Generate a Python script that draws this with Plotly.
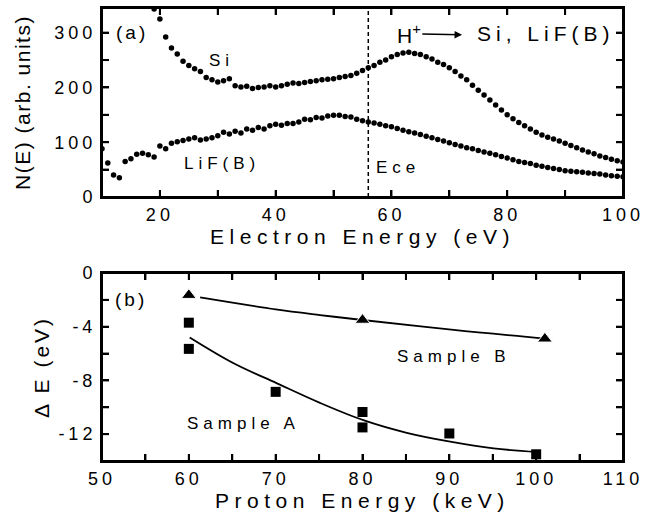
import plotly.graph_objects as go

# ---- Panel (a) data: N(E) vs electron energy ----
si_x = list(range(19, 101))
si_y = [343, 325, 292, 272, 261, 248, 240, 234, 229, 218,
        214, 210, 212, 216, 203, 201, 202, 198, 200, 201,
        203, 201, 203, 206, 208, 207, 209, 211, 212, 214,
        215, 216, 218, 220, 222, 226, 231, 236, 240, 246,
        250, 256, 260, 263, 264, 262, 260, 256, 252, 246,
        242, 236, 229, 221, 214, 204, 195, 186, 177, 168,
        159, 150, 143, 136, 130, 124, 118, 113, 109, 106,
        102, 98, 94, 90, 86, 82, 79, 75, 72, 69,
        66, 64]

lif_x = list(range(10, 101))
lif_y = [88, 62, 40, 35, 65, 70, 78, 80, 77, 73,
         93, 88, 98, 101, 103, 106, 108, 104, 106, 108,
         112, 118, 115, 120, 117, 124, 122, 127, 124, 130,
         133, 131, 134, 134, 137, 142, 141, 145, 144, 148,
         149, 149, 147, 146, 142, 139, 137, 135, 133, 130,
         128, 125, 122, 119, 117, 114, 111, 108, 105, 102,
         99, 96, 93, 90, 88, 85, 82, 80, 77, 74,
         71, 68, 65, 63, 61, 58, 56, 54, 52, 50,
         48, 47, 46, 45, 44, 43, 42, 40, 39, 38,
         37]

ece_x = 56

# ---- Panel (b) data: Delta E vs proton energy ----
a_x = [60, 60, 70, 80, 80, 90, 100]
a_y = [-3.7, -5.65, -8.85, -10.35, -11.5, -11.95, -13.5]
b_x = [60, 80, 101]
b_y = [-1.65, -3.5, -4.9]

a_fit_x = [60.1, 65.1, 70.1, 75.1, 80.1, 85.1, 90.1, 95.1, 100.1]
a_fit_y = [-4.8, -6.7, -8.2, -9.67, -10.96, -11.9, -12.56, -13.06, -13.33]
b_fit_x = [61.3, 70.0, 75.1, 80.0, 90.5, 101.3]
b_fit_y = [-1.82, -2.71, -3.13, -3.5, -4.24, -4.9]

# axis ranges, tick positions (all ticks) and the labelled subset
top_xrange = [10, 100]
top_yrange = [0, 345]
bot_xrange = [50, 110]
bot_yrange = [-14, 0]
top_xticks = [10, 20, 30, 40, 50, 60, 70, 80, 90, 100]
top_xlabels = [20, 40, 60, 80, 100]
top_yticks = [0, 50, 100, 150, 200, 250, 300]
top_ylabels = [0, 100, 200, 300]
bot_xticks = [50, 55, 60, 65, 70, 75, 80, 85, 90, 95, 100, 105, 110]
bot_xlabels = [50, 60, 70, 80, 90, 100, 110]
bot_yticks = [0, -2, -4, -6, -8, -10, -12, -14]
bot_ylabels = [0, -4, -8, -12]

FONT = "Liberation Sans"


def sp(text, ls):
    return f'<span style="letter-spacing:{ls}px">{text}</span>'


def labels(ticks, shown, ls=4):
    return [sp(str(v), ls) if v in shown else "" for v in ticks]


def box(xr, yr):
    return [xr[0], xr[1], xr[1], xr[0], xr[0]], [yr[0], yr[0], yr[1], yr[1], yr[0]]


def tick_segments(xr, yr, xt, yt, hpx, wpx, tick_px=7):
    dy = (yr[1] - yr[0]) * tick_px / hpx
    dx = (xr[1] - xr[0]) * tick_px / wpx
    xs, ys = [], []
    for v in xt:
        xs += [v, v, None, v, v, None]
        ys += [yr[0], yr[0] + dy, None, yr[1], yr[1] - dy, None]
    for v in yt:
        xs += [xr[0], xr[0] + dx, None, xr[1], xr[1] - dx, None]
        ys += [v, v, None, v, v, None]
    return xs, ys


fig = go.Figure()

fig.add_trace(go.Scatter(x=si_x, y=si_y, mode="markers",
                         marker=dict(color="black", size=5.5),
                         xaxis="x", yaxis="y", showlegend=False))
fig.add_trace(go.Scatter(x=lif_x, y=lif_y, mode="markers",
                         marker=dict(color="black", size=5.5),
                         xaxis="x", yaxis="y", showlegend=False))
fig.add_trace(go.Scatter(x=[ece_x, ece_x], y=top_yrange, mode="lines",
                         line=dict(color="black", width=1.5, dash="4px,3px"),
                         xaxis="x", yaxis="y", showlegend=False))

fig.add_trace(go.Scatter(x=a_fit_x, y=a_fit_y, mode="lines",
                         line=dict(color="black", width=1.8, shape="spline"),
                         xaxis="x2", yaxis="y2", showlegend=False))
fig.add_trace(go.Scatter(x=b_fit_x, y=b_fit_y, mode="lines",
                         line=dict(color="black", width=1.8, shape="spline"),
                         xaxis="x2", yaxis="y2", showlegend=False))
fig.add_trace(go.Scatter(x=a_x, y=a_y, mode="markers",
                         marker=dict(color="black", size=10, symbol="square"),
                         xaxis="x2", yaxis="y2", showlegend=False))
fig.add_trace(go.Scatter(x=b_x, y=b_y, mode="markers",
                         marker=dict(color="black", size=13, symbol="triangle-up",
                                     line=dict(color="white", width=1)),
                         xaxis="x2", yaxis="y2", showlegend=False))

# panel frames and inward ticks, drawn on the axes' own scales
for xa, ya, xr, yr, xt, yt, hpx in [("x", "y", top_xrange, top_yrange, top_xticks, top_yticks, 189),
                                    ("x2", "y2", bot_xrange, bot_yrange, bot_xticks, bot_yticks, 188)]:
    bx, by = box(xr, yr)
    fig.add_trace(go.Scatter(x=bx, y=by, mode="lines", line=dict(color="black", width=2),
                             cliponaxis=False, hoverinfo="skip", showlegend=False,
                             xaxis=xa, yaxis=ya))
    tx, ty = tick_segments(xr, yr, xt, yt, hpx, 521)
    fig.add_trace(go.Scatter(x=tx, y=ty, mode="lines", line=dict(color="black", width=2),
                             connectgaps=False, hoverinfo="skip", showlegend=False,
                             xaxis=xa, yaxis=ya))

tickfont = dict(family=FONT, size=18, color="black")
titlefont = dict(family=FONT, size=21, color="black")
common = dict(showline=True, linecolor="black", linewidth=2, mirror="ticks",
              ticks="inside", ticklen=7, tickwidth=2, tickcolor="black",
              showgrid=False, zeroline=False, tickfont=tickfont, tickmode="array",
              layer="above traces")

fig.update_layout(
    width=657, height=518,
    margin=dict(l=102, r=34, t=8, b=57, autoexpand=False),
    plot_bgcolor="white",
    xaxis=dict(domain=[0, 1], range=top_xrange, anchor="y",
               tickvals=top_xticks, ticktext=labels(top_xticks, top_xlabels),
               title=dict(text=sp("Electron Energy (eV)", 5.5), font=titlefont, standoff=0),
               **common),
    yaxis=dict(domain=[0.5828, 1], range=top_yrange, anchor="x",
               tickvals=top_yticks, ticktext=labels(top_yticks, top_ylabels),
               title=dict(text=sp("N(E) (arb. units)", 1.5), font=titlefont, standoff=18),
               **common),
    xaxis2=dict(domain=[0, 1], range=bot_xrange, anchor="y2",
                tickvals=bot_xticks, ticktext=labels(bot_xticks, bot_xlabels),
                title=dict(text=sp("Proton Energy (keV)", 5.5), font=titlefont, standoff=0),
                **common),
    yaxis2=dict(domain=[0, 0.415], range=bot_yrange, anchor="x2",
                tickvals=bot_yticks, ticktext=labels(bot_yticks, bot_ylabels),
                title=dict(text=sp("\u0394 E (eV)", 3), font=titlefont, standoff=3),
                **common),
)

ann_small = dict(family=FONT, size=17, color="black")
ann_big = dict(family=FONT, size=21, color="black")
anns = [
    dict(x=12.0, y=300, xref="x", yref="y", text=sp("(a)", 3), showarrow=False,
         xanchor="left", yanchor="middle", font=dict(family=FONT, size=19, color="black")),
    dict(x=30.6, y=250, xref="x", yref="y", text=sp("Si", 5), showarrow=False,
         xanchor="center", yanchor="middle", font=ann_small),
    dict(x=30.8, y=61.5, xref="x", yref="y", text=sp("LiF(B)", 5), showarrow=False,
         xanchor="center", yanchor="middle", font=ann_small),
    dict(x=61.2, y=54, xref="x", yref="y", text=sp("Ece", 5), showarrow=False,
         xanchor="center", yanchor="middle", font=ann_small),
    dict(x=72.2, y=296, xref="x", yref="y", ax=63.0, ay=298, axref="x", ayref="y",
         text="H<sup>+</sup>", showarrow=True, arrowhead=2, arrowsize=1,
         arrowwidth=1.5, arrowcolor="black", startstandoff=0, font=ann_big),
    dict(x=74.5, y=298, xref="x", yref="y", text=sp("Si, LiF(B)", 5), showarrow=False,
         xanchor="left", yanchor="middle", font=ann_big),
    dict(x=51.3, y=-2.0, xref="x2", yref="y2", text=sp("(b)", 3), showarrow=False,
         xanchor="left", yanchor="middle", font=dict(family=FONT, size=19, color="black")),
    dict(x=66.3, y=-11.2, xref="x2", yref="y2", text=sp("Sample A", 5), showarrow=False,
         xanchor="center", yanchor="middle", font=ann_small),
    dict(x=90.5, y=-6.2, xref="x2", yref="y2", text=sp("Sample B", 5), showarrow=False,
         xanchor="center", yanchor="middle", font=ann_small),
]
fig.update_layout(annotations=anns)

fig.write_html("out.html", post_script="document.body.style.margin='0px';",
               config={"displayModeBar": False})
